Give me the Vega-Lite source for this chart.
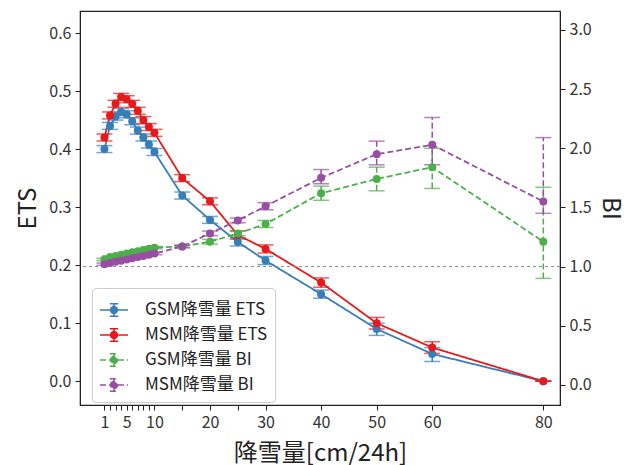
{
  "$schema": "https://vega.github.io/schema/vega-lite/v6.json",
  "width": 480,
  "height": 394,
  "autosize": "none",
  "padding": {"left": 80, "top": 11, "right": 75, "bottom": 60},
  "background": "white",
  "title": {"text": "ETSとBIの降雪量", "fontSize": 24, "fontWeight": "normal", "font": "Noto Sans CJK JP", "color": "#222", "offset": -4, "baseline": "bottom"},
  "config": {
    "font": "Noto Sans CJK JP",
    "view": {"stroke": "#222", "strokeWidth": 1.2},
    "axis": {"grid": false, "domainColor": "#222", "tickColor": "#222", "tickSize": 5, "labelFontSize": 16, "labelColor": "#333", "titleFontSize": 24, "titleFontWeight": "normal", "titleColor": "#222", "labelPadding": 4}
  },
  "datasets": {
    "ets": [
      {"series": "GSM降雪量 ETS", "x": 1, "v": 0.400, "lo": 0.394, "hi": 0.406},
      {"series": "GSM降雪量 ETS", "x": 2, "v": 0.440, "lo": 0.434, "hi": 0.446},
      {"series": "GSM降雪量 ETS", "x": 3, "v": 0.456, "lo": 0.450, "hi": 0.462},
      {"series": "GSM降雪量 ETS", "x": 4, "v": 0.464, "lo": 0.458, "hi": 0.470},
      {"series": "GSM降雪量 ETS", "x": 5, "v": 0.460, "lo": 0.454, "hi": 0.466},
      {"series": "GSM降雪量 ETS", "x": 6, "v": 0.448, "lo": 0.442, "hi": 0.454},
      {"series": "GSM降雪量 ETS", "x": 7, "v": 0.432, "lo": 0.426, "hi": 0.438},
      {"series": "GSM降雪量 ETS", "x": 8, "v": 0.420, "lo": 0.414, "hi": 0.426},
      {"series": "GSM降雪量 ETS", "x": 9, "v": 0.408, "lo": 0.402, "hi": 0.414},
      {"series": "GSM降雪量 ETS", "x": 10, "v": 0.395, "lo": 0.389, "hi": 0.401},
      {"series": "GSM降雪量 ETS", "x": 15, "v": 0.320, "lo": 0.314, "hi": 0.326},
      {"series": "GSM降雪量 ETS", "x": 20, "v": 0.278, "lo": 0.272, "hi": 0.284},
      {"series": "GSM降雪量 ETS", "x": 25, "v": 0.240, "lo": 0.233, "hi": 0.247},
      {"series": "GSM降雪量 ETS", "x": 30, "v": 0.208, "lo": 0.201, "hi": 0.215},
      {"series": "GSM降雪量 ETS", "x": 40, "v": 0.150, "lo": 0.143, "hi": 0.157},
      {"series": "GSM降雪量 ETS", "x": 50, "v": 0.090, "lo": 0.079, "hi": 0.100},
      {"series": "GSM降雪量 ETS", "x": 60, "v": 0.047, "lo": 0.034, "hi": 0.058},
      {"series": "GSM降雪量 ETS", "x": 80, "v": 0.000, "lo": 0.000, "hi": 0.000},
      {"series": "MSM降雪量 ETS", "x": 1, "v": 0.420, "lo": 0.414, "hi": 0.426},
      {"series": "MSM降雪量 ETS", "x": 2, "v": 0.458, "lo": 0.452, "hi": 0.464},
      {"series": "MSM降雪量 ETS", "x": 3, "v": 0.478, "lo": 0.472, "hi": 0.484},
      {"series": "MSM降雪量 ETS", "x": 4, "v": 0.490, "lo": 0.484, "hi": 0.496},
      {"series": "MSM降雪量 ETS", "x": 5, "v": 0.486, "lo": 0.480, "hi": 0.492},
      {"series": "MSM降雪量 ETS", "x": 6, "v": 0.478, "lo": 0.472, "hi": 0.484},
      {"series": "MSM降雪量 ETS", "x": 7, "v": 0.466, "lo": 0.460, "hi": 0.472},
      {"series": "MSM降雪量 ETS", "x": 8, "v": 0.450, "lo": 0.444, "hi": 0.456},
      {"series": "MSM降雪量 ETS", "x": 9, "v": 0.438, "lo": 0.432, "hi": 0.444},
      {"series": "MSM降雪量 ETS", "x": 10, "v": 0.428, "lo": 0.422, "hi": 0.434},
      {"series": "MSM降雪量 ETS", "x": 15, "v": 0.350, "lo": 0.344, "hi": 0.356},
      {"series": "MSM降雪量 ETS", "x": 20, "v": 0.310, "lo": 0.304, "hi": 0.316},
      {"series": "MSM降雪量 ETS", "x": 25, "v": 0.252, "lo": 0.245, "hi": 0.259},
      {"series": "MSM降雪量 ETS", "x": 30, "v": 0.228, "lo": 0.221, "hi": 0.235},
      {"series": "MSM降雪量 ETS", "x": 40, "v": 0.170, "lo": 0.162, "hi": 0.178},
      {"series": "MSM降雪量 ETS", "x": 50, "v": 0.100, "lo": 0.090, "hi": 0.110},
      {"series": "MSM降雪量 ETS", "x": 60, "v": 0.058, "lo": 0.048, "hi": 0.068},
      {"series": "MSM降雪量 ETS", "x": 80, "v": 0.000, "lo": 0.000, "hi": 0.000}
    ],
    "bi": [
      {"series": "GSM降雪量 BI", "x": 1, "v": 1.06, "lo": 1.05, "hi": 1.07},
      {"series": "GSM降雪量 BI", "x": 2, "v": 1.08, "lo": 1.07, "hi": 1.09},
      {"series": "GSM降雪量 BI", "x": 3, "v": 1.09, "lo": 1.08, "hi": 1.10},
      {"series": "GSM降雪量 BI", "x": 4, "v": 1.10, "lo": 1.09, "hi": 1.11},
      {"series": "GSM降雪量 BI", "x": 5, "v": 1.11, "lo": 1.10, "hi": 1.12},
      {"series": "GSM降雪量 BI", "x": 6, "v": 1.12, "lo": 1.11, "hi": 1.13},
      {"series": "GSM降雪量 BI", "x": 7, "v": 1.13, "lo": 1.12, "hi": 1.14},
      {"series": "GSM降雪量 BI", "x": 8, "v": 1.14, "lo": 1.13, "hi": 1.15},
      {"series": "GSM降雪量 BI", "x": 9, "v": 1.15, "lo": 1.14, "hi": 1.16},
      {"series": "GSM降雪量 BI", "x": 10, "v": 1.16, "lo": 1.15, "hi": 1.17},
      {"series": "GSM降雪量 BI", "x": 15, "v": 1.17, "lo": 1.16, "hi": 1.18},
      {"series": "GSM降雪量 BI", "x": 20, "v": 1.21, "lo": 1.19, "hi": 1.23},
      {"series": "GSM降雪量 BI", "x": 25, "v": 1.28, "lo": 1.26, "hi": 1.30},
      {"series": "GSM降雪量 BI", "x": 30, "v": 1.36, "lo": 1.33, "hi": 1.39},
      {"series": "GSM降雪量 BI", "x": 40, "v": 1.62, "lo": 1.56, "hi": 1.68},
      {"series": "GSM降雪量 BI", "x": 50, "v": 1.74, "lo": 1.64, "hi": 1.84},
      {"series": "GSM降雪量 BI", "x": 60, "v": 1.84, "lo": 1.66, "hi": 2.00},
      {"series": "GSM降雪量 BI", "x": 80, "v": 1.21, "lo": 0.90, "hi": 1.67},
      {"series": "MSM降雪量 BI", "x": 1, "v": 1.02, "lo": 1.01, "hi": 1.03},
      {"series": "MSM降雪量 BI", "x": 2, "v": 1.03, "lo": 1.02, "hi": 1.04},
      {"series": "MSM降雪量 BI", "x": 3, "v": 1.04, "lo": 1.03, "hi": 1.05},
      {"series": "MSM降雪量 BI", "x": 4, "v": 1.05, "lo": 1.04, "hi": 1.06},
      {"series": "MSM降雪量 BI", "x": 5, "v": 1.06, "lo": 1.05, "hi": 1.07},
      {"series": "MSM降雪量 BI", "x": 6, "v": 1.07, "lo": 1.06, "hi": 1.08},
      {"series": "MSM降雪量 BI", "x": 7, "v": 1.08, "lo": 1.07, "hi": 1.09},
      {"series": "MSM降雪量 BI", "x": 8, "v": 1.09, "lo": 1.08, "hi": 1.10},
      {"series": "MSM降雪量 BI", "x": 9, "v": 1.10, "lo": 1.09, "hi": 1.11},
      {"series": "MSM降雪量 BI", "x": 10, "v": 1.11, "lo": 1.10, "hi": 1.12},
      {"series": "MSM降雪量 BI", "x": 15, "v": 1.17, "lo": 1.16, "hi": 1.18},
      {"series": "MSM降雪量 BI", "x": 20, "v": 1.28, "lo": 1.26, "hi": 1.30},
      {"series": "MSM降雪量 BI", "x": 25, "v": 1.39, "lo": 1.37, "hi": 1.41},
      {"series": "MSM降雪量 BI", "x": 30, "v": 1.51, "lo": 1.48, "hi": 1.54},
      {"series": "MSM降雪量 BI", "x": 40, "v": 1.75, "lo": 1.70, "hi": 1.82},
      {"series": "MSM降雪量 BI", "x": 50, "v": 1.95, "lo": 1.86, "hi": 2.06},
      {"series": "MSM降雪量 BI", "x": 60, "v": 2.03, "lo": 1.86, "hi": 2.26},
      {"series": "MSM降雪量 BI", "x": 80, "v": 1.55, "lo": 1.45, "hi": 2.09}
    ],
    "ref": [{"bi": 1.0}]
  },
  "encoding": {
    "x": {
      "field": "x", "type": "quantitative",
      "scale": {"domain": [-3.4, 83], "nice": false, "zero": false},
      "axis": {
        "title": "降雪量[cm/24h]",
        "values": [1, 2, 3, 4, 5, 6, 7, 8, 9, 10, 15, 20, 25, 30, 40, 50, 60, 80],
        "labelExpr": "indexof([1,5,10,20,30,40,50,60,80], datum.value) >= 0 ? datum.label : ''",
        "labelOverlap": false,
        "labelFlush": false,
        "titlePadding": 11
      }
    }
  },
  "layer": [
    {
      "data": {"name": "ets"},
      "layer": [
        {
          "mark": {"type": "line", "strokeWidth": 1.8},
          "encoding": {
            "y": {"field": "v", "type": "quantitative", "title": "ETS",
              "scale": {"domain": [-0.041, 0.638], "nice": false, "zero": false},
              "axis": {"orient": "left", "values": [0, 0.1, 0.2, 0.3, 0.4, 0.5, 0.6], "format": ".1f", "titlePadding": 8}},
            "color": {"field": "series", "type": "nominal",
              "scale": {"domain": ["GSM降雪量 ETS", "MSM降雪量 ETS", "GSM降雪量 BI", "MSM降雪量 BI"], "range": ["#377eb8", "#e41a1c", "#4daf4a", "#984ea3"]},
              "legend": {
                "title": null, "orient": "none", "legendX": 12, "legendY": 277,
                "symbolType": "M-1,0H1M0,-0.45V0.45M-0.3,-0.45H0.3M-0.3,0.45H0.3M-0.24,0A0.24,0.24,0,1,1,0.24,0A0.24,0.24,0,1,1,-0.24,0Z",
                "symbolSize": 784, "symbolStrokeWidth": 1.6, "labelFontSize": 17, "labelColor": "#222",
                "strokeColor": "#cccccc", "fillColor": "white", "cornerRadius": 4, "padding": 7, "rowPadding": -2, "labelOffset": 16,
                "encode": {"symbols": {"update": {"fill": {"scale": "color", "field": "value"}, "fillOpacity": {"value": 1}}}}
              }},
            "strokeDash": {"field": "series", "type": "nominal",
              "scale": {"domain": ["GSM降雪量 ETS", "MSM降雪量 ETS", "GSM降雪量 BI", "MSM降雪量 BI"], "range": [[1, 0], [1, 0], [6, 3], [6, 3]]},
              "legend": {"title": null}}
          }
        },
        {
          "mark": {"type": "rule", "strokeWidth": 1.5},
          "encoding": {
            "y": {"field": "lo", "type": "quantitative", "title": "ETS"},
            "y2": {"field": "hi"},
            "color": {"field": "series", "type": "nominal"},
            "strokeDash": {"field": "series", "type": "nominal"}
          }
        },
        {
          "transform": [{"fold": ["lo", "hi"], "as": ["k", "cap"]}],
          "mark": {"type": "tick", "orient": "horizontal", "size": 16, "thickness": 1.5},
          "encoding": {
            "y": {"field": "cap", "type": "quantitative", "title": "ETS"},
            "color": {"field": "series", "type": "nominal"}
          }
        },
        {
          "mark": {"type": "point", "filled": true, "size": 64, "opacity": 1},
          "encoding": {
            "y": {"field": "v", "type": "quantitative", "title": "ETS"},
            "color": {"field": "series", "type": "nominal"}
          }
        }
      ]
    },
    {
      "layer": [
        {
          "data": {"name": "ref"},
          "mark": {"type": "rule", "color": "#888888", "strokeWidth": 1, "strokeDash": [3, 3]},
          "encoding": {"y": {"field": "bi", "type": "quantitative", "title": "BI"}, "x": null}
        },
        {
          "data": {"name": "bi"},
          "mark": {"type": "line", "strokeWidth": 1.8},
          "encoding": {
            "y": {"field": "v", "type": "quantitative", "title": "BI",
              "scale": {"domain": [-0.17, 3.16], "nice": false, "zero": false},
              "axis": {"orient": "right", "values": [0, 0.5, 1, 1.5, 2, 2.5, 3], "format": ".1f", "titlePadding": 6}},
            "color": {"field": "series", "type": "nominal"},
            "strokeDash": {"field": "series", "type": "nominal"}
          }
        },
        {
          "data": {"name": "bi"},
          "mark": {"type": "rule", "strokeWidth": 1.5},
          "encoding": {
            "y": {"field": "lo", "type": "quantitative", "title": "BI"},
            "y2": {"field": "hi"},
            "color": {"field": "series", "type": "nominal"},
            "strokeDash": {"field": "series", "type": "nominal"}
          }
        },
        {
          "data": {"name": "bi"},
          "transform": [{"fold": ["lo", "hi"], "as": ["k", "cap"]}],
          "mark": {"type": "tick", "orient": "horizontal", "size": 16, "thickness": 1.5},
          "encoding": {
            "y": {"field": "cap", "type": "quantitative", "title": "BI"},
            "color": {"field": "series", "type": "nominal"}
          }
        },
        {
          "data": {"name": "bi"},
          "mark": {"type": "point", "filled": true, "size": 64, "opacity": 1},
          "encoding": {
            "y": {"field": "v", "type": "quantitative", "title": "BI"},
            "color": {"field": "series", "type": "nominal"}
          }
        }
      ]
    }
  ],
  "resolve": {"scale": {"y": "independent"}}
}
